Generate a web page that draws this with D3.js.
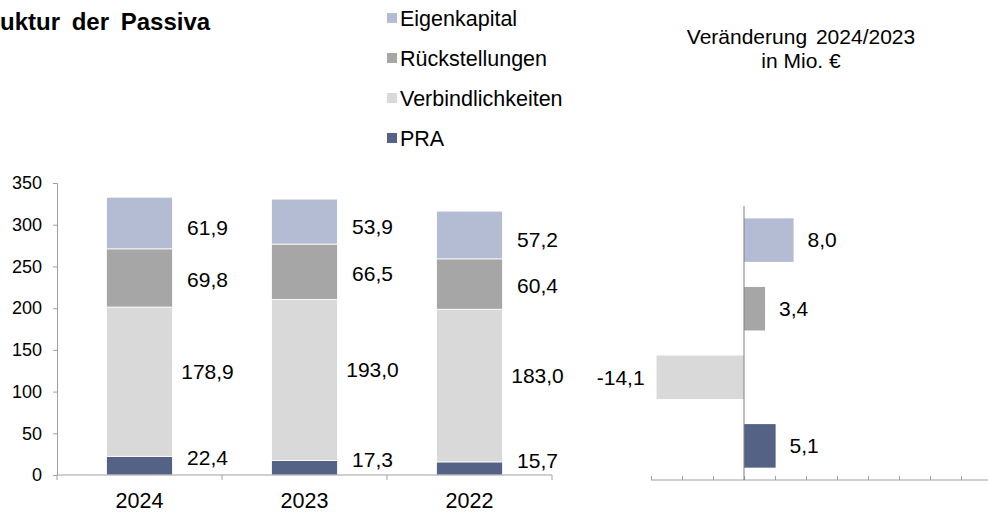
<!DOCTYPE html>
<html>
<head>
<meta charset="utf-8">
<script src="https://cdn.jsdelivr.net/npm/d3@7"></script>
<style>
  body { margin: 0; background: #fff; }
  svg { display: block; font-family: "Liberation Sans", Arial, sans-serif; }
  .axis path, .axis line { stroke: #a0a0a0; }
  .axis text { fill: #000; }
</style>
</head>
<body>
<svg id="chart"></svg>
<script>
// Daten
const years = ["2024", "2023", "2022"];
const series = ["PRA", "Verbindlichkeiten", "Rückstellungen", "Eigenkapital"];
const pra = [22.4, 17.3, 15.7];
const verbindlichkeiten = [178.9, 193.0, 183.0];
const rueckstellungen = [69.8, 66.5, 60.4];
const eigenkapital = [61.9, 53.9, 57.2];
const yTicks = [0, 50, 100, 150, 200, 250, 300, 350];
const changeCats = ["Eigenkapital", "Rückstellungen", "Verbindlichkeiten", "PRA"];
const changeValues = [8.0, 3.4, -14.1, 5.1];

const colors = {
    "Eigenkapital": "#b3bcd3",
    "Rückstellungen": "#a6a6a6",
    "Verbindlichkeiten": "#d9d9d9",
    "PRA": "#536285"
};
// kleine Verschiebung der Beschriftungen wie im Original
const labelNudge = { "Eigenkapital": 5, "Rückstellungen": 2, "Verbindlichkeiten": -10, "PRA": -8 };

const width = 988, height = 516;
const svg = d3.select("#chart").attr("width", width).attr("height", height);
const fmt = v => d3.format(".1f")(v).replace(".", ",").replace("\u2212", "-");

// Titel (im Original links abgeschnitten)
svg.append("text")
    .attr("x", 0)
    .attr("y", 30)
    .attr("font-size", 24)
    .attr("font-weight", "bold")
    .attr("word-spacing", 5)
    .text("uktur der Passiva");

// Legende
const legend = svg.append("g").attr("transform", "translate(387, 18)");
changeCats.forEach((s, i) => {
    const g = legend.append("g").attr("transform", `translate(0, ${i * 40})`);
    g.append("rect").attr("x", 0).attr("y", -5).attr("width", 10).attr("height", 10).attr("fill", colors[s]);
    g.append("text").attr("x", 13).attr("y", 0).attr("dy", "0.35em")
        .attr("font-size", 21.5).text(s);
});

// Gestapelte Säulen
const tableData = years.map((y, i) => ({
    year: y,
    "PRA": pra[i],
    "Verbindlichkeiten": verbindlichkeiten[i],
    "Rückstellungen": rueckstellungen[i],
    "Eigenkapital": eigenkapital[i]
}));
const stacked = d3.stack().keys(series)(tableData);

const x = d3.scaleBand().domain(years).range([57, 552]);
const y = d3.scaleLinear().domain([0, 350]).range([475, 183]);
const barW = x.bandwidth() * 0.4;

svg.append("g").attr("class", "axis")
    .attr("transform", "translate(57,0)")
    .call(d3.axisLeft(y).tickValues(yTicks).tickSize(4).tickPadding(11))
    .call(g => g.selectAll("text").attr("font-size", 18));

stacked.forEach(layer => {
    svg.append("g").selectAll("rect")
        .data(layer)
        .join("rect")
        .attr("x", d => x(d.data.year) + (x.bandwidth() - barW) / 2)
        .attr("y", d => y(d[1]))
        .attr("width", barW)
        .attr("height", d => y(d[0]) - y(d[1]))
        .attr("fill", colors[layer.key])
        .attr("stroke", "#fff")
        .attr("stroke-width", 0.8);

    svg.append("g").selectAll("text")
        .data(layer)
        .join("text")
        .attr("x", d => x(d.data.year) + x.bandwidth() / 2 + 68)
        .attr("y", d => y((d[0] + d[1]) / 2) + labelNudge[layer.key])
        .attr("dy", "0.35em")
        .attr("text-anchor", "middle")
        .attr("font-size", 21)
        .text(d => fmt(d[1] - d[0]));
});

// x-Achse
const xAxis = svg.append("g").attr("class", "axis")
    .attr("transform", "translate(0,475)");
xAxis.append("line").attr("x1", 57).attr("x2", 552);
xAxis.selectAll(".tk")
    .data(years.concat(["end"]))
    .join("line")
    .attr("x1", (d, i) => 57 + i * x.step())
    .attr("x2", (d, i) => 57 + i * x.step())
    .attr("y1", 0).attr("y2", 5);
xAxis.selectAll("text")
    .data(years)
    .join("text")
    .attr("x", d => x(d) + x.bandwidth() / 2)
    .attr("y", 33)
    .attr("text-anchor", "middle")
    .attr("font-size", 21.5)
    .text(d => d);

// Veränderung 2024/2023
svg.append("text").attr("x", 801).attr("y", 44).attr("text-anchor", "middle")
    .attr("font-size", 21).attr("word-spacing", 3).text("Veränderung 2024/2023");
svg.append("text").attr("x", 801).attr("y", 68).attr("text-anchor", "middle")
    .attr("font-size", 21).text("in Mio. €");

const xc = d3.scaleLinear().domain([-15, 40]).range([651, 992]);
const yc = d3.scaleBand().domain(changeCats).range([206, 480]).paddingInner(0.365).paddingOuter(0.18);

svg.append("g").selectAll("rect")
    .data(changeCats)
    .join("rect")
    .attr("x", (d, i) => xc(Math.min(0, changeValues[i])))
    .attr("y", d => yc(d))
    .attr("width", (d, i) => Math.abs(xc(changeValues[i]) - xc(0)))
    .attr("height", yc.bandwidth())
    .attr("fill", d => colors[d]);

svg.append("g").selectAll("text")
    .data(changeCats)
    .join("text")
    .attr("x", (d, i) => changeValues[i] >= 0 ? xc(changeValues[i]) + 14 : xc(changeValues[i]) - 12)
    .attr("y", d => yc(d) + yc.bandwidth() / 2)
    .attr("dy", "0.35em")
    .attr("text-anchor", (d, i) => changeValues[i] >= 0 ? "start" : "end")
    .attr("font-size", 21)
    .text((d, i) => fmt(changeValues[i]));

svg.append("g").attr("class", "axis")
    .attr("transform", "translate(0,480)")
    .call(d3.axisTop(xc).ticks(11).tickSize(4).tickFormat(""))
    .call(g => g.select(".domain").attr("d", "M651,0H992"));

svg.append("line")
    .attr("x1", xc(0)).attr("x2", xc(0))
    .attr("y1", 206).attr("y2", 480)
    .attr("stroke", "#808080");
</script>
</body>
</html>
